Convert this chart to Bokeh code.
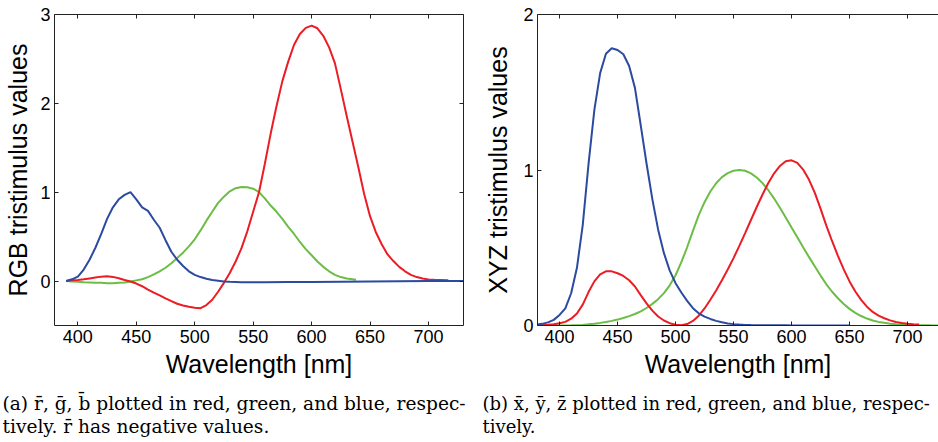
from bokeh.plotting import figure
from bokeh.layouts import column, row
from bokeh.models import Range1d, LinearAxis, FixedTicker, Label
from bokeh.embed import file_html
from bokeh.resources import INLINE

# ---------------- data: (a) RGB tristimulus values ----------------
rgb_r_wl = [390, 395, 400, 405, 410, 415, 420, 425, 430, 435, 440, 445, 450, 455, 460,
            465, 470, 475, 480, 485, 490, 495, 500, 505, 510, 515, 520, 525, 530, 535,
            540, 545, 550, 555, 560, 565, 570, 575, 580, 585, 590, 595, 600, 605, 610,
            615, 620, 625, 630, 635, 640, 645, 650, 655, 660, 665, 670, 675, 680, 685,
            690, 695, 700, 705, 710, 717]
rgb_r = [0.0, 0.008, 0.012, 0.02, 0.03, 0.04, 0.05, 0.053, 0.047, 0.032,
         0.012, -0.005, -0.028, -0.058, -0.095, -0.13, -0.162, -0.195, -0.225, -0.255,
         -0.275, -0.29, -0.30, -0.305, -0.27, -0.21, -0.12, -0.02, 0.09, 0.22,
         0.37, 0.56, 0.78, 1.0, 1.32, 1.66, 1.97, 2.25, 2.47, 2.66,
         2.78, 2.85, 2.875, 2.845, 2.76, 2.63, 2.45, 2.16, 1.86, 1.57,
         1.28, 0.98, 0.73, 0.55, 0.415, 0.30, 0.225, 0.16, 0.11, 0.07,
         0.045, 0.028, 0.018, 0.015, 0.013, 0.01]

rgb_g_wl = [390, 395, 400, 405, 410, 415, 420, 425, 430, 435, 440, 445, 450, 455, 460,
            465, 470, 475, 480, 485, 490, 495, 500, 505, 510, 515, 520, 525, 530, 535,
            540, 545, 550, 555, 560, 565, 570, 575, 580, 585, 590, 595, 600, 605, 610,
            615, 620, 625, 630, 638]
rgb_g = [0.0, -0.005, -0.008, -0.012, -0.015, -0.018, -0.02, -0.025, -0.025, -0.02,
         -0.015, -0.005, 0.008, 0.02, 0.045, 0.075, 0.11, 0.15, 0.20, 0.26,
         0.32, 0.39, 0.47, 0.57, 0.68, 0.78, 0.88, 0.95, 1.01, 1.045,
         1.058, 1.055, 1.04, 1.0, 0.93, 0.85, 0.78, 0.70, 0.61, 0.53,
         0.44, 0.36, 0.29, 0.22, 0.16, 0.11, 0.07, 0.045, 0.028, 0.015]

rgb_b_wl = [390, 395, 400, 405, 410, 415, 420, 425, 430, 435, 440, 445, 450, 455, 460,
            465, 470, 475, 480, 485, 490, 495, 500, 505, 510, 515, 520, 525, 530, 540,
            550, 560, 580, 600, 650, 700, 730]
rgb_b = [0.0, 0.02, 0.05, 0.13, 0.24, 0.375, 0.53, 0.70, 0.83, 0.92, 0.97, 1.0, 0.92,
         0.83, 0.79, 0.69, 0.60, 0.46, 0.33, 0.24, 0.17, 0.11, 0.07, 0.045, 0.027, 0.011,
         0.004, -0.004, -0.008, -0.012, -0.013, -0.013, -0.011, -0.01, -0.005, 0.0, 0.0]

# ---------------- data: (b) XYZ tristimulus values ----------------
xyz_wl = [380, 385, 390, 395, 400, 405, 410, 415, 420, 425, 430, 435, 440, 445, 450,
          455, 460, 465, 470, 475, 480, 485, 490, 495, 500, 505, 510, 515, 520, 525,
          530, 535, 540, 545, 550, 555, 560, 565, 570, 575, 580, 585, 590, 595, 600,
          605, 610, 615, 620, 625, 630, 635, 640, 645, 650, 655, 660, 665, 670, 675,
          680, 685, 690, 695, 700, 705, 710, 715, 720, 725, 730]
xyz_x = [0.0014, 0.0022, 0.0042, 0.0077, 0.0143, 0.0232, 0.0435, 0.0776, 0.1344, 0.2148,
         0.2839, 0.3285, 0.3483, 0.3481, 0.3362, 0.3187, 0.2908, 0.2511, 0.1954, 0.1421,
         0.0956, 0.0580, 0.0320, 0.0147, 0.0049, 0.0024, 0.0093, 0.0291, 0.0633, 0.1096,
         0.1655, 0.2257, 0.2904, 0.3597, 0.4334, 0.5121, 0.5945, 0.6784, 0.7621, 0.8425,
         0.9163, 0.9786, 1.0263, 1.0567, 1.0622, 1.0456, 1.0026, 0.9384, 0.8544, 0.7514,
         0.6424, 0.5419, 0.4479, 0.3608, 0.2835, 0.2187, 0.1649, 0.1212, 0.0874, 0.0636,
         0.0468, 0.0329, 0.0227, 0.0158, 0.0114, 0.0081, 0.0058]
xyz_y = [0.0000, 0.0001, 0.0001, 0.0002, 0.0004, 0.0006, 0.0012, 0.0022, 0.0040, 0.0073,
         0.0116, 0.0168, 0.0230, 0.0298, 0.0380, 0.0480, 0.0600, 0.0739, 0.0910, 0.1126,
         0.1390, 0.1693, 0.2080, 0.2586, 0.3230, 0.4073, 0.5030, 0.6082, 0.7100, 0.7932,
         0.8620, 0.9149, 0.9540, 0.9803, 0.9950, 1.0000, 0.9950, 0.9786, 0.9520, 0.9154,
         0.8700, 0.8163, 0.7570, 0.6949, 0.6310, 0.5668, 0.5030, 0.4412, 0.3810, 0.3210,
         0.2650, 0.2170, 0.1750, 0.1382, 0.1070, 0.0816, 0.0610, 0.0446, 0.0320, 0.0232,
         0.0170, 0.0119, 0.0082, 0.0057, 0.0041, 0.0029, 0.0021, 0.0015, 0.0010, 0.0007,
         0.0005]
xyz_z = [0.0065, 0.0106, 0.0201, 0.0362, 0.0679, 0.1102, 0.2074, 0.3713, 0.6456, 1.0391,
         1.3856, 1.6230, 1.7471, 1.7826, 1.7721, 1.7441, 1.6692, 1.5281, 1.2876, 1.0419,
         0.8130, 0.6162, 0.4652, 0.3533, 0.2720, 0.2123, 0.1582, 0.1117, 0.0783, 0.0573,
         0.0422, 0.0298, 0.0203, 0.0134, 0.0088, 0.0058, 0.0039, 0.0028, 0.0021, 0.0018,
         0.0017, 0.0014, 0.0011, 0.0010, 0.0008, 0.0006, 0.0003, 0.0002, 0.0002, 0.0001,
         0.0001, 0.0000, 0.0000, 0.0000, 0.0000]

x_ticks = [400, 450, 500, 550, 600, 650, 700]
rgb_y_ticks = [0, 1, 2, 3]
xyz_y_ticks = [0, 1, 2]

captions_a = ["(a) r\u0304, g\u0304, b\u0304 plotted in red, green, and blue, respec-",
              "tively. r\u0304 has negative values."]
captions_b = ["(b) x\u0304, y\u0304, z\u0304 plotted in red, green, and blue, respec-",
              "tively."]

RED = "#ec1c24"
GREEN = "#6cbd45"
BLUE = "#2b4aa0"
SANS = "Liberation Sans"
SERIF = "DejaVu Serif"


def style_axis(ax, ticks, labels=True, label_standoff=4):
    ax.ticker = FixedTicker(ticks=ticks)
    ax.major_tick_in = 4
    ax.major_tick_out = 0
    ax.minor_tick_line_color = None
    ax.axis_line_color = "#222222"
    ax.major_tick_line_color = "#222222"
    ax.axis_line_width = 1
    if labels:
        ax.major_label_text_font = SANS
        ax.major_label_text_font_size = "18px"
        ax.major_label_text_color = "black"
        ax.major_label_standoff = 4
        ax.axis_label_text_font = SANS
        ax.axis_label_text_font_size = "25px"
        ax.axis_label_text_font_style = "normal"
        ax.axis_label_text_color = "black"
        ax.axis_label_standoff = label_standoff
    else:
        ax.major_label_overrides = {t: "" for t in ticks}
        ax.major_label_text_font_size = "1px"
        ax.major_label_standoff = 0


def make_fig(width, xr, yr, yticks, ylabel, border_left, border_right, right_axis, ylab_standoff):
    p = figure(width=width, height=380, x_range=Range1d(*xr), y_range=Range1d(*yr),
               output_backend="svg", toolbar_location=None,
               min_border_left=border_left, min_border_right=border_right,
               min_border_top=14, min_border_bottom=0)
    p.outline_line_color = None
    p.grid.visible = False
    p.background_fill_color = "white"
    p.border_fill_color = "white"
    style_axis(p.xaxis[0], x_ticks)
    p.xaxis[0].axis_label = "Wavelength [nm]"
    style_axis(p.yaxis[0], yticks, label_standoff=ylab_standoff)
    p.yaxis[0].axis_label = ylabel
    top = LinearAxis()
    style_axis(top, x_ticks, labels=False)
    p.add_layout(top, "above")
    if right_axis:
        right = LinearAxis()
        style_axis(right, yticks, labels=False)
        p.add_layout(right, "right")
    return p


p1 = make_fig(470, (380, 730), (-0.5, 3), rgb_y_ticks, "RGB tristimulus values", 54, 7, True, 5)
p1.line(rgb_g_wl, rgb_g, line_color=GREEN, line_width=2)
p1.line(rgb_r_wl, rgb_r, line_color=RED, line_width=2)
p1.line(rgb_b_wl, rgb_b, line_color=BLUE, line_width=2)

p2 = make_fig(468, (381, 726.7), (0, 2), xyz_y_ticks, "XYZ tristimulus values", 67, 0, False, 8)
p2.line(xyz_wl, xyz_y, line_color=GREEN, line_width=2)
p2.line(xyz_wl[:len(xyz_x)], xyz_x, line_color=RED, line_width=2)
p2.line(xyz_wl[:len(xyz_z)], xyz_z, line_color=BLUE, line_width=2)

cap = figure(width=938, height=62, x_range=Range1d(0, 938), y_range=Range1d(62, 0),
             output_backend="svg", toolbar_location=None, min_border=0,
             x_axis_location=None, y_axis_location=None)
cap.outline_line_color = None
cap.grid.visible = False
cap.background_fill_color = "white"
cap.border_fill_color = "white"
for i, t in enumerate(captions_a):
    cap.add_layout(Label(x=2, y=23 + 23 * i, text=t, text_font=SERIF, text_font_size="18.6px",
                         text_color="black", text_baseline="alphabetic"))
for i, t in enumerate(captions_b):
    cap.add_layout(Label(x=482, y=23 + 23 * i, text=t, text_font=SERIF, text_font_size="18px",
                         text_color="black", text_baseline="alphabetic"))

layout = column(row(p1, p2), cap)
open("out.html", "w").write(file_html(layout, INLINE))
